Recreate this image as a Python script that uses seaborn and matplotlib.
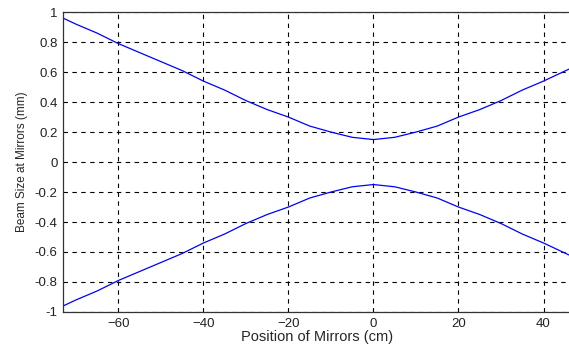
import matplotlib
matplotlib.use("Agg")
import matplotlib.pyplot as plt
import numpy as np
import pandas as pd
import seaborn as sb

# positions of mirrors (cm) and beam size (mm)
position_cm = [-73, -70, -65, -60, -55, -50, -45, -40, -35, -30, -25, -20, -15,
               -10, -5, 0, 5, 10, 15, 20, 25, 30, 35, 40, 46]
upper_mm = [0.96, 0.92, 0.86, 0.79, 0.73, 0.67, 0.61, 0.54, 0.48, 0.41, 0.35,
            0.30, 0.24, 0.20, 0.165, 0.15, 0.165, 0.20, 0.24, 0.30, 0.35, 0.41,
            0.48, 0.54, 0.62]
lower_mm = [-0.96, -0.92, -0.86, -0.79, -0.73, -0.67, -0.61, -0.54, -0.48, -0.41,
            -0.35, -0.30, -0.24, -0.20, -0.165, -0.15, -0.165, -0.20, -0.24,
            -0.30, -0.35, -0.41, -0.48, -0.54, -0.62]
x_ticks = [-60, -40, -20, 0, 20, 40]
y_ticks = [-1, -0.8, -0.6, -0.4, -0.2, 0, 0.2, 0.4, 0.6, 0.8, 1]

sb.set_style("white")
plt.rcParams['font.family'] = ['Liberation Sans', 'DejaVu Sans']

df = pd.DataFrame({'pos': position_cm, 'upper': upper_mm, 'lower': lower_mm})

fig = plt.figure(figsize=(5.69, 3.47), dpi=100)
ax = fig.add_axes([0.111, 0.101, 0.892, 0.864])

sb.lineplot(data=df, x='pos', y='upper', ax=ax, color='#0000ff', linewidth=0.9)
sb.lineplot(data=df, x='pos', y='lower', ax=ax, color='#0000ff', linewidth=0.9)

ax.set_xlim(-73, 46.4)
ax.set_ylim(-1, 1)
ax.set_xticks(x_ticks)
ax.set_yticks(y_ticks)
ax.set_yticklabels(['%g' % v for v in y_ticks])
ax.tick_params(direction='in', length=3, labelsize=9.5, colors='#222222',
               pad=4, width=0.8)
ax.grid(True, color='black', linestyle=(0, (4, 4)), linewidth=0.8)

for side in ['left', 'bottom', 'top']:
    ax.spines[side].set_color('#333333')
    ax.spines[side].set_linewidth(0.9)
ax.spines['right'].set_visible(False)

ax.set_xlabel('Position of Mirrors (cm)', fontsize=10.5, labelpad=0)
ax.set_ylabel('Beam Size at Mirrors (mm)', fontsize=8.5, labelpad=5)

fig.savefig('out.png', dpi=100)
